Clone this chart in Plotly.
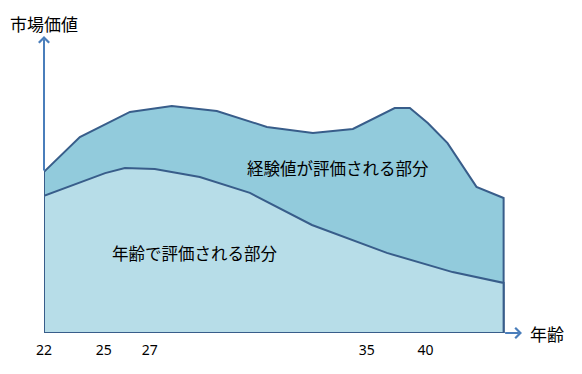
import plotly.graph_objects as go

# Schematic axis positions (0..100 along the age axis) and market value (0..100)
upper_pos = [0, 7.8, 18.7, 27.8, 37.6, 48.5, 58.5, 67.2, 76.3, 79.6, 83.5, 87.8, 94.1, 100]
upper_val = [53.7, 65.3, 73.7, 75.7, 74.0, 68.7, 66.7, 68.0, 75.0, 75.0, 70.0, 63.3, 48.7, 45.0]

lower_pos = [0, 13.3, 17.6, 24.1, 33.9, 44.8, 58.3, 74.6, 88.9, 100]
lower_val = [45.7, 53.3, 55.0, 54.7, 52.0, 46.7, 36.0, 26.7, 20.3, 16.7]

tick_pos = [0, 13.0, 23.0, 70.2, 83.0]
tick_labels = ["22", "25", "27", "35", "40"]

label_upper = "経験値が評価される部分"
label_lower = "年齢で評価される部分"
y_title = "市場価値"
x_title = "年齢"

OUTLINE = "#385D8A"
AXIS = "#4A7EBB"
FILL_UP = "#92CBDC"
FILL_LO = "#B7DDE8"
JP = "Noto Sans CJK JP"

fig = go.Figure()

# Upper (total) area: top curve down to baseline
fig.add_trace(go.Scatter(
    x=[upper_pos[0]] + upper_pos + [upper_pos[-1], upper_pos[0]],
    y=[0] + upper_val + [0, 0],
    mode="lines", fill="toself", fillcolor=FILL_UP,
    line=dict(color=OUTLINE, width=2), hoverinfo="skip", showlegend=False,
))
# Lower (age-based) area
fig.add_trace(go.Scatter(
    x=[lower_pos[0]] + lower_pos + [lower_pos[-1], lower_pos[0]],
    y=[0] + lower_val + [0, 0],
    mode="lines", fill="toself", fillcolor=FILL_LO,
    line=dict(color=OUTLINE, width=2), hoverinfo="skip", showlegend=False,
))

annotations = [
    # y axis arrow
    dict(x=0, y=99, ax=0, ay=max(upper_val[0], lower_val[0]), xref="x", yref="y",
         axref="x", ayref="y", text="", showarrow=True, arrowhead=4,
         arrowsize=1, arrowwidth=2, arrowcolor=AXIS),
    # x axis arrow
    dict(x=104, y=0, ax=upper_pos[-1], ay=0, xref="x", yref="y",
         axref="x", ayref="y", text="", showarrow=True, arrowhead=4,
         arrowsize=1, arrowwidth=2, arrowcolor=AXIS),
    dict(x=0, y=1.03, xref="x", yref="paper", text=y_title, showarrow=False,
         font=dict(family=JP, size=17, color="#000000"), yanchor="middle"),
    dict(x=1.012, y=0, xref="paper", yref="y", text=x_title, showarrow=False,
         xanchor="left", font=dict(family=JP, size=17, color="#000000")),
    dict(x=63.9, y=55, xref="x", yref="y", text=label_upper, showarrow=False,
         font=dict(family=JP, size=16.5, color="#000000")),
    dict(x=32.8, y=26.7, xref="x", yref="y", text=label_lower, showarrow=False,
         font=dict(family=JP, size=16.5, color="#000000")),
]

fig.update_layout(
    width=582, height=374,
    margin=dict(l=44, r=59.6, t=33, b=41),
    paper_bgcolor="white", plot_bgcolor="white",
    annotations=annotations,
    xaxis=dict(range=[0, 104], showgrid=False, zeroline=False, showline=False,
               tickmode="array", tickvals=tick_pos, ticktext=tick_labels,
               ticks="outside", ticklen=4, tickcolor="rgba(0,0,0,0)",
               tickfont=dict(family="Noto Sans", size=14, color="#000000")),
    yaxis=dict(range=[0, 100], showgrid=False, zeroline=False, showline=False,
               showticklabels=False),
    showlegend=False,
)

fig.write_html(
    "out.html",
    config={"displayModeBar": False, "staticPlot": True},
    post_script="document.body.style.margin='0';document.body.style.overflow='hidden';",
)
